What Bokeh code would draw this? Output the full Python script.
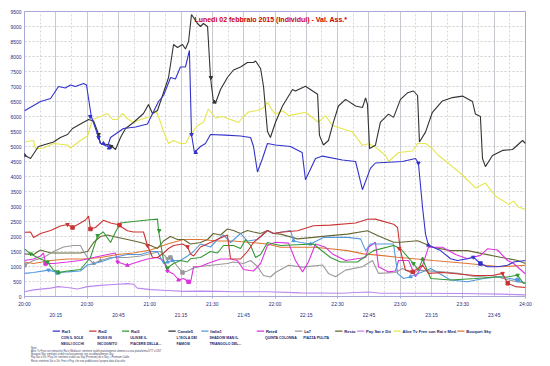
from bokeh.plotting import figure
from bokeh.models import Range1d, FixedTicker, LinearAxis, Grid, Label, ColumnDataSource
from bokeh.layouts import column
from bokeh.embed import file_html
from bokeh.resources import INLINE
from bokeh.core.properties import value, field

FONT = "Liberation Sans"
TICK_COLOR = "#2b2b7a"
LEG_COLOR = "#222266"

# ---------------- axis ticks ----------------
x_ticks_a = [0, 30, 60, 90, 120, 150, 180, 210, 240]
x_labels_a = ["20:00", "20:30", "21:00", "21:30", "22:00", "22:30", "23:00", "23:30", "24:00"]
x_ticks_b = [15, 45, 75, 105, 135, 165, 195, 225]
x_labels_b = ["20:15", "20:45", "21:15", "21:45", "22:15", "22:45", "23:15", "23:45"]
x_grid_major = [0, 15, 30, 45, 60, 75, 90, 105, 120, 135, 150, 165, 180, 195, 210, 225, 240]
x_grid_minor = [7.5, 22.5, 37.5, 52.5, 67.5, 82.5, 97.5, 112.5, 127.5, 142.5, 157.5, 172.5,
                187.5, 202.5, 217.5, 232.5]
y_ticks = [0, 500, 1000, 1500, 2000, 2500, 3000, 3500, 4000, 4500, 5000, 5500, 6000, 6500,
           7000, 7500, 8000, 8500, 9000, 9500]

# ---------------- series (minutes after 20:00, viewers in thousands) ----------------
rai1_t = [0, 7.7, 12.5, 16.3, 19.6, 22, 24.4, 28.3, 29.7, 32, 35, 36.4, 39.8, 41.2, 47.4, 53.2,
          58.9, 64.2, 66.6, 70, 72.3, 74.7, 77.1, 79, 80, 81.4, 84.3, 86.7, 89.1, 96.3, 103.5,
          108.3, 109.7, 111.6, 114, 116.4, 120.2, 127.4, 133, 134.6, 139.4, 142.8, 152.3, 158.6,
          161.9, 165.7, 168.1, 181, 187.3, 188.7, 190.7, 192.1, 193.5, 199.3, 204.1, 207.4,
          212.2, 215, 218.4, 221.8, 226.6, 231.4, 234.3, 240]
rai1_v = [6190, 6500, 6600, 7000, 6950, 7050, 7000, 7100, 7050, 6000, 5400, 5100, 5000, 5300,
          5600, 5650, 5750, 6500, 6700, 7300, 7250, 7650, 7650, 8200, 5400, 4800, 5000, 5100,
          5400, 5380, 5350, 5300, 5000, 4150, 4600, 5100, 5050, 5000, 4800, 3890, 4600, 4680,
          4550, 4500, 3560, 4270, 4450, 4500, 4600, 4450, 2960, 2080, 1710, 1530, 1260, 1200,
          1260, 1310, 1100, 990, 990, 1040, 1150, 1200]
rai1_mt = [31.5, 35.5, 37.8, 40.5, 80, 82, 188.7, 193.5, 215, 218.4]
rai1_mv = [6000, 5300, 5100, 4950, 5400, 4800, 4450, 1710, 1310, 1100]
rai1_ms = ["inverted_triangle", "inverted_triangle", "triangle", "triangle", "inverted_triangle",
           "triangle", "inverted_triangle", "triangle", "inverted_triangle", "square"]

rai2_t = [0, 2.9, 4.3, 7.7, 12.5, 17.2, 20.6, 23, 26.8, 29.2, 30.7, 31.6, 34, 37.8, 41.2, 44.6,
          49.3, 52.2, 57, 58.9, 61.3, 63.7, 66.6, 69, 71.4, 75.7, 78.1, 79.5, 81, 84.3, 89.1,
          93.9, 97.2, 98.7, 103.5, 106.8, 109.7, 113.1, 116.4, 119.3, 122.6, 130.8, 138.4,
          146.6, 158.6, 164.3, 168.1, 176.8, 178.7, 180.1, 182.5, 185.9, 190.7, 193.5, 200.2,
          207.9, 216, 224.2, 229, 231.4, 235.2, 240]
rai2_v = [2140, 2150, 1970, 2100, 2200, 2350, 2400, 2300, 2450, 2550, 2680, 2250, 2300, 2540,
          2450, 2400, 2190, 2150, 2150, 1700, 1310, 1300, 1450, 1600, 1700, 1750, 1660, 1420,
          1350, 1650, 1800, 1950, 2050, 1260, 1250, 1500, 1800, 2000, 2200, 2100, 2140, 2190,
          2360, 2380, 2450, 2575, 2580, 2410, 2300, 1530, 880, 820, 1040, 770, 800, 750, 700,
          700, 770, 440, 330, 300]
rai2_mt = [20.6, 23, 31.6, 45.5, 58.9, 78.1, 179.5, 186, 229, 231.5]
rai2_mv = [2400, 2300, 2250, 2380, 1700, 1660, 1600, 820, 770, 440]
rai2_ms = ["inverted_triangle", "square", "square", "square", "inverted_triangle",
           "inverted_triangle", "inverted_triangle", "square", "inverted_triangle", "square"]

rai3_t = [0, 2.9, 6.2, 11, 13.9, 16.3, 20.6, 26.8, 31.6, 35, 37.8, 41.2, 43.6, 46, 52.2, 58.9,
          63.7, 64.2, 66.6, 68.5, 71.4, 74.7, 78.1, 79.5, 84.3, 89.1, 92.5, 95.3, 100.1, 103.5,
          105.9, 108.3, 110.7, 113.1, 116.4, 119.3, 122.6, 138.4, 146.6, 151.4, 159.5, 167.2,
          176.8, 180.1, 186.3, 188.7, 190.7, 194.6, 204.1, 216, 225.6, 231.9, 236.2, 239, 240]
rai3_v = [1590, 1420, 1300, 1150, 880, 800, 850, 900, 1300, 2030, 2150, 1800, 2150, 2450, 2500,
          2550, 2580, 2200, 1200, 950, 1100, 1200, 1150, 1260, 1300, 1500, 1450, 1700, 1700, 1600,
          1900, 1700, 1300, 1400, 1800, 1750, 1700, 1750, 1300, 1150, 1150, 1530, 1700, 1600,
          1100, 880, 1250, 600, 550, 600, 650, 660, 710, 440, 450]
rai3_mt = [3, 11, 16.3, 35, 64.5, 68.5, 186.3, 190.7, 236.2]
rai3_mv = [1420, 1150, 800, 2030, 2200, 950, 1100, 1250, 710]
rai3_ms = ["inverted_triangle", "inverted_triangle", "triangle", "inverted_triangle",
           "inverted_triangle", "inverted_triangle", "inverted_triangle", "triangle",
           "inverted_triangle"]

can5_t = [0, 2.9, 4.3, 6.7, 9.1, 13.9, 17.2, 20.6, 23, 26.8, 30.7, 33.1, 35, 36.4, 41.2, 43.6,
          46, 48.4, 52.2, 57, 59.4, 61.3, 63.7, 66.6, 69, 71.4, 73.3, 75.7, 77.1, 78.6, 80, 82.9,
          84.3, 85.7, 87.7, 89.1, 90.5, 91.5, 93.9, 97.2, 100.1, 103.5, 106.8, 109.7, 110.7,
          113.1, 114.5, 116.4, 117.8, 120.2, 123.6, 128.4, 129.8, 134.6, 140.4, 141.3, 143.2,
          145.6, 148, 150.4, 153.8, 158.6, 161.9, 163.4, 164.3, 165.3, 168.1, 170.5, 174.4,
          176.8, 180.1, 183.5, 186.3, 188.3, 189.2, 192.1, 195.4, 200.2, 205, 209.8, 214.6, 216,
          218.4, 219.4, 220.8, 224.2, 229, 233.8, 238.6, 240]
can5_v = [4710, 4600, 4750, 5000, 5050, 5150, 5300, 5400, 5600, 5750, 5900, 5850, 5500, 5100,
          5050, 4900, 5300, 5600, 5800, 6100, 6400, 6100, 6200, 6800, 7300, 8400, 8300, 8400,
          8250, 8500, 9400, 9100, 9000, 9100, 9000, 7300, 6500, 6450, 6900, 7300, 7550, 7650,
          7800, 7800, 7850, 7600, 7000, 5500, 5300, 5800, 6350, 6900, 6850, 7010, 6740, 5370,
          5050, 5200, 5810, 6350, 6570, 6350, 6300, 6620, 6400, 4930, 5040, 5810, 6080, 5970,
          6570, 6790, 6850, 6700, 5150, 5480, 6140, 6520, 6630, 6680, 6500, 6080, 6000, 4600,
          4330, 4700, 4870, 4900, 5200, 5100]
can5_mt = [0, 35.5, 41.5, 89.3, 91]
can5_mv = [4710, 5400, 5000, 7300, 6480]
can5_ms = ["triangle", "inverted_triangle", "inverted_triangle", "inverted_triangle", "triangle"]

ita1_t = [0, 4.3, 11.5, 15.8, 20.6, 26.8, 30.2, 36.4, 42.6, 49.3, 55.6, 60.4, 63.7, 66.6, 68.5,
          70.9, 74.7, 78.1, 81, 84.3, 89.1, 92.5, 95.3, 98.7, 103.5, 106.8, 111.6, 116.4, 119.3,
          122.6, 127.4, 128.9, 132.2, 137, 143.2, 154.7, 161, 163.4, 165.7, 176.8, 178.7, 181.6,
          184.9, 194.6, 204.1, 212.2, 219.9, 228, 236.2, 240]
ita1_v = [770, 800, 880, 800, 820, 850, 1050, 1150, 1300, 1400, 1400, 1500, 1500, 1100, 1150,
          1200, 1200, 1350, 1500, 1750, 1650, 1900, 2050, 1800, 2100, 1850, 1900, 2200, 2100,
          2140, 2200, 1860, 1800, 1750, 1970, 1970, 1920, 1530, 1750, 1750, 770, 600, 660, 930,
          550, 490, 600, 660, 550, 440]
ita1_mt = [11.5, 15.8, 68.5, 70.9, 128.9, 137, 184.9, 236.2]
ita1_mv = [880, 800, 1150, 1200, 1860, 1750, 660, 550]
ita1_ms = ["inverted_triangle", "square", "triangle", "triangle", "triangle", "triangle",
           "triangle", "square"]

ret4_t = [0, 4.3, 7.7, 9.1, 10.1, 13.9, 20.6, 26.8, 33.1, 39.8, 43.6, 44.6, 49.3, 54.1, 58.9,
          63.7, 66.6, 68.5, 71.4, 73.8, 76.2, 78.6, 79.5, 81, 84.3, 87.7, 93.9, 98.7, 102, 104.9,
          109.7, 113.1, 116.4, 120.2, 126.5, 129.8, 133.2, 136, 139.4, 144.2, 147.5, 153.8,
          163.4, 164.8, 168.1, 169.6, 174.4, 177.7, 179.2, 184, 187.3, 190.7, 193.5, 200.2,
          206.5, 212.2, 218.4, 221.8, 226.6, 231.4, 234.3, 240]
ret4_v = [1200, 1250, 1350, 1450, 1100, 1100, 1150, 1200, 1300, 1400, 1450, 1150, 1040, 1150,
          1250, 1300, 1200, 850, 750, 550, 600, 490, 450, 990, 1000, 1100, 1250, 1250, 1200, 900,
          850, 1100, 1700, 1810, 1780, 1200, 820, 1150, 1750, 1640, 1420, 1200, 1300, 1640, 1810,
          990, 820, 850, 1200, 1200, 660, 1040, 1640, 1640, 1400, 1260, 1370, 1590, 1550, 1200,
          1100, 750]
ret4_mt = [10.1, 44.6, 49.3, 68.5, 73.8, 78.6]
ret4_mv = [1100, 1150, 1040, 850, 550, 490]
ret4_ms = ["square", "inverted_triangle", "triangle", "inverted_triangle", "triangle", "square"]

la7_t = [0, 4.3, 9.1, 13.9, 18.7, 23.5, 26.8, 28.3, 30.7, 33.1, 36.4, 41.2, 49.3, 55.6, 61.8,
         65.1, 68.5, 69.9, 73.3, 75.7, 78.1, 81, 84.3, 90.5, 97.2, 100.1, 104.9, 108.3, 111.6,
         114.5, 117.8, 120.2, 126.5, 133.2, 142.8, 145.6, 149, 153.8, 161.9, 166.7, 169.6,
         177.7, 181.1, 185.9, 188.7, 200.2, 207.9, 216, 224.2, 231.9, 240]
la7_v = [1040, 1200, 1300, 1500, 1650, 1700, 1700, 1500, 1250, 1100, 1200, 1300, 1300, 1350,
         1450, 1500, 1260, 1300, 1000, 800, 850, 950, 1000, 1050, 1100, 1150, 1100, 1200, 1000,
         700, 650, 800, 1040, 980, 1050, 770, 660, 880, 990, 1200, 770, 800, 930, 770, 880, 820,
         770, 660, 700, 550, 440]
la7_mt = [0, 33.1, 36.4, 68.5, 69.9, 75.7]
la7_mv = [1040, 1100, 1200, 1260, 1300, 800]
la7_ms = ["square", "triangle", "triangle", "inverted_triangle", "square", "square"]

resto_t = [0, 4.3, 7.7, 12.5, 20.6, 26.8, 30.2, 33.1, 36.4, 39.8, 42.6, 49.3, 55.6, 60.4, 63.7,
           66.6, 69.9, 73.3, 76.2, 79.5, 84.3, 87.7, 90.5, 93.9, 97.2, 100.1, 103.5, 106.8,
           109.7, 113.1, 116.4, 119.3, 122.6, 130.8, 138.4, 146.6, 154.7, 164.3, 169.1, 176.8,
           180.1, 188.3, 195.8, 204.1, 212.2, 219.9, 228, 236.2, 240]
resto_v = [1420, 1400, 1550, 1450, 1450, 1450, 1500, 1800, 2000, 2050, 2000, 1900, 1800, 1700,
           1600, 1850, 2000, 1900, 1900, 1750, 1800, 1900, 2100, 2050, 2250, 2200, 2100, 2200,
           2150, 2100, 2200, 2100, 2080, 1920, 1970, 2030, 2080, 2190, 2030, 1810, 1810, 1860,
           1640, 1530, 1530, 1420, 1310, 1200, 1100]

pay_t = [0, 4.3, 12.5, 16.3, 20.6, 25.4, 30.2, 36.4, 42.6, 49.3, 52.2, 54.1, 60.4, 68.5, 76.2,
         84.3, 92.5, 100.1, 116.4, 132.2, 151.4, 164.8, 170.5, 189.7, 208.9, 228, 240]
pay_v = [160, 220, 280, 330, 300, 250, 330, 370, 400, 430, 410, 280, 230, 200, 170, 180, 170,
         160, 160, 120, 110, 150, 110, 110, 100, 80, 55]

altre_t = [0, 4.3, 5.3, 9.1, 13.9, 20.6, 22, 26.8, 30.2, 32.6, 36.4, 39.8, 42.2, 44.6, 46.9,
           49.8, 52.2, 55.6, 60.4, 62.8, 64.2, 66.6, 69, 71.4, 74.7, 77.1, 79.5, 82.9, 85.7,
           88.1, 91.5, 94.9, 98.7, 102.5, 104.9, 107.3, 111.6, 114.5, 116.4, 118.8, 120.2,
           123.6, 126.5, 134.6, 140.8, 144.2, 147.5, 152.3, 157.1, 161.9, 164.8, 168.1, 172.9,
           174.4, 179.2, 185.9, 188.3, 192.1, 195.4, 198.3, 203.1, 209.8, 216, 220.8, 225.6,
           231.9, 234.3, 236.6, 240]
altre_v = [5150, 5200, 4930, 4950, 5100, 5050, 4950, 5200, 5350, 5900, 6000, 6100, 5900, 5900,
           6100, 5900, 5800, 5900, 6000, 6200, 6000, 5500, 5100, 5200, 5100, 5100, 5400, 5700,
           5800, 6250, 5950, 6000, 5900, 5800, 6000, 6150, 6200, 6300, 6470, 6200, 6080, 6190,
           6030, 6140, 5810, 6030, 5700, 5590, 5480, 5040, 5090, 4980, 4710, 4500, 4800, 4850,
           5100, 5100, 4930, 4700, 4440, 4050, 3620, 3780, 3350, 3070, 3180, 2980, 2900]

bouq_t = [0, 4.3, 12.5, 20.6, 28.3, 36.4, 44.6, 52.2, 60.4, 68.5, 76.2, 84.3, 92.5, 100.1, 108.3,
          116.4, 122.6, 138.4, 146.6, 154.7, 162.4, 170.5, 178.7, 195.8, 212.2, 228, 240]
bouq_v = [1150, 1100, 1200, 1250, 1250, 1300, 1400, 1450, 1550, 1750, 1900, 1900, 1850, 1850,
          1800, 1750, 1640, 1640, 1590, 1530, 1420, 1370, 1310, 1200, 1100, 990, 1040]

# ---------------- legend ----------------
leg_names = ["Rai1", "Rai2", "Rai3", "Canale5", "Italia1", "Rete4", "La7", "Resto",
             "Pay Sat e Dtt", "Altre Tv Free con Rai e Med.", "Bouquet Sky"]
leg_prog1 = ["CON IL SOLE", "BOSS IN", "ULISSE IL", "L'ISOLA DEI", "SHADOW MAN IL",
             "QUINTA COLONNA", "PIAZZA PULITA", "", "", "", ""]
leg_prog2 = ["NEGLI OCCHI", "INCOGNITO", "PIACERE DELLA...", "FAMOSI", "TRIANGOLO DEL...",
             "", "", "", "", "", ""]
leg_colors = ["#3333cc", "#cc3333", "#339933", "#333333", "#5599dd", "#dd33dd", "#999999",
              "#666633", "#bb88ee", "#e6e64d", "#dd7733"]
leg_x = [31, 71, 107, 158, 194, 255, 297, 341, 365, 405, 475]

notes = ["Note:",
         "Altre Tv Free con tematiche Rai e Mediaset: emittenti visibili gratuitamente almeno su una piattaforma DTT o DST",
         "Bouquet Sky: emittenti visibili esclusivamente con un abbonamento Sky",
         "Pay Sat e Dtt / Pay Dtt: emittenti visibili via Sky (Premium) dtt e Sky + Premium Cable",
         "Resto: emittenti Sat e Dtt, Free e Pay, che non pubblicano il proprio dato d'ascolto"]

title_text = "Lunedì 02 febbraio 2015 (Individui) - Val. Ass.*"

# ---------------- main figure ----------------
p = figure(width=550, height=320, x_range=Range1d(0, 240), y_range=Range1d(0, 9500),
           output_backend="svg", toolbar_location=None,
           min_border_left=24, min_border_right=25, min_border_top=11, min_border_bottom=20)
p.background_fill_color = "white"
p.border_fill_color = "white"
p.outline_line_color = "#a8a8d8"
p.outline_line_width = 1

xa = p.xaxis[0]
xa.ticker = FixedTicker(ticks=x_ticks_a)
xa.major_label_overrides = {t: l for t, l in zip(x_ticks_a, x_labels_a)}
xa.axis_line_color = "#a8a8d8"
xa.major_tick_line_color = "#a8a8d8"
xa.major_tick_out = 2
xa.major_tick_in = 0
xa.minor_tick_line_color = None
xa.minor_tick_out = 0
xa.major_label_standoff = 2
xa.major_label_text_font_size = "5px"
xa.major_label_text_color = TICK_COLOR
xa.major_label_text_font = FONT

xb = LinearAxis(ticker=FixedTicker(ticks=x_ticks_b),
                major_label_overrides={t: l for t, l in zip(x_ticks_b, x_labels_b)},
                axis_line_color=None, major_tick_line_color=None, minor_tick_line_color=None,
                major_tick_out=0, major_tick_in=0, minor_tick_out=0, minor_tick_in=0,
                major_label_standoff=2, major_label_text_font_size="5px",
                major_label_text_color=TICK_COLOR, major_label_text_font=FONT)
p.add_layout(xb, "below")

ya = p.yaxis[0]
ya.ticker = FixedTicker(ticks=y_ticks)
ya.axis_line_color = None
ya.major_tick_line_color = None
ya.minor_tick_line_color = None
ya.major_tick_out = 0
ya.minor_tick_out = 0
ya.major_label_standoff = 3
ya.major_label_text_font_size = "5px"
ya.major_label_text_color = TICK_COLOR
ya.major_label_text_font = FONT

p.xgrid.ticker = FixedTicker(ticks=x_grid_major)
p.xgrid.grid_line_color = "#c8c8d0"
p.add_layout(Grid(dimension=0, ticker=FixedTicker(ticks=x_grid_minor),
                  grid_line_color="#d6d6d6", grid_line_dash="2 2"))
p.ygrid.ticker = FixedTicker(ticks=y_ticks)
p.ygrid.grid_line_color = "#cfcfcf"
p.ygrid.grid_line_dash = "2 2"

series = [
    (bouq_t, bouq_v, "#dd7733", None, None, None),
    (altre_t, altre_v, "#e6e64d", None, None, None),
    (pay_t, pay_v, "#bb88ee", None, None, None),
    (resto_t, resto_v, "#666633", None, None, None),
    (la7_t, la7_v, "#999999", la7_mt, la7_mv, la7_ms),
    (ret4_t, ret4_v, "#dd33dd", ret4_mt, ret4_mv, ret4_ms),
    (ita1_t, ita1_v, "#5599dd", ita1_mt, ita1_mv, ita1_ms),
    (rai3_t, rai3_v, "#339933", rai3_mt, rai3_mv, rai3_ms),
    (rai2_t, rai2_v, "#cc3333", rai2_mt, rai2_mv, rai2_ms),
    (can5_t, can5_v, "#333333", can5_mt, can5_mv, can5_ms),
    (rai1_t, rai1_v, "#3333cc", rai1_mt, rai1_mv, rai1_ms),
]
for t, v, c, mt, mv, ms in series:
    p.line(t, v, line_color=c, line_width=1.1)
    if mt:
        src = ColumnDataSource(dict(x=mt, y=mv, m=ms))
        p.scatter("x", "y", source=src, marker=field("m"), size=3.5,
                  fill_color=c, line_color=c)

p.add_layout(Label(x=118, y=9250, text=title_text, text_align="center",
                   text_baseline="middle", text_color="#cc0000", text_font_style="bold",
                   text_font_size="7px", text_font=FONT))

# ---------------- legend / notes figure ----------------
H2 = 46
p2 = figure(width=550, height=H2, x_range=Range1d(0, 550), y_range=Range1d(H2, 0),
            output_backend="svg", toolbar_location=None,
            x_axis_location=None, y_axis_location=None,
            min_border_left=0, min_border_right=0, min_border_top=0, min_border_bottom=0)
p2.outline_line_color = None
p2.xgrid.visible = False
p2.ygrid.visible = False

p2.segment(x0=leg_x, y0=[10.7] * len(leg_x), x1=[x + 8 for x in leg_x], y1=[10.7] * len(leg_x),
           line_color=leg_colors, line_width=1.2)
p2.text(x=[x + 10 for x in leg_x], y=[10.7] * len(leg_x), text=leg_names,
        text_font=value(FONT), text_font_size="4.05px", text_baseline="middle",
        text_color=LEG_COLOR, text_font_style="bold")
p2.text(x=[x + 9 for x in leg_x], y=[17.3] * len(leg_x), text=leg_prog1,
        text_font=value(FONT), text_font_size="3.5px", text_baseline="middle",
        text_color=LEG_COLOR, text_font_style="bold")
p2.text(x=[x + 9 for x in leg_x], y=[23.3] * len(leg_x), text=leg_prog2,
        text_font=value(FONT), text_font_size="3.5px", text_baseline="middle",
        text_color=LEG_COLOR, text_font_style="bold")
p2.text(x=[7] * len(notes), y=[27.7, 31.0, 34.2, 37.3, 40.6], text=notes,
        text_font=value(FONT), text_font_size="2.6px", text_baseline="middle",
        text_color="#444466")

layout = column(p, p2, spacing=0)
open("out.html", "w").write(file_html(layout, INLINE))
